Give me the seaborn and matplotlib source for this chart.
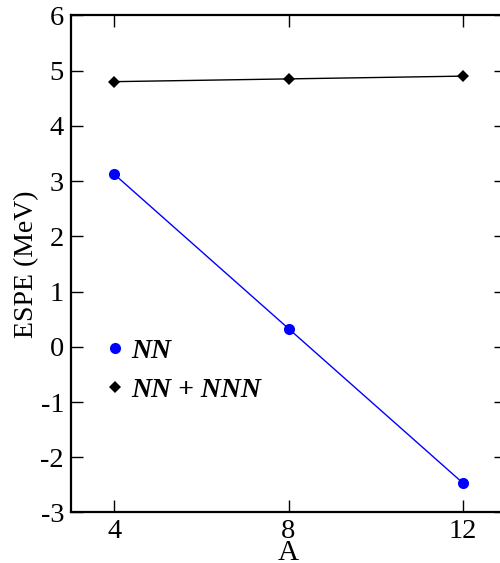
import numpy as np
import pandas as pd
import seaborn as sns
import matplotlib.pyplot as plt
from matplotlib.lines import Line2D

# values
mass_number = [4, 8, 12]
espe_nn = [3.12, 0.33, -2.46]
espe_nn_nnn = [4.80, 4.85, 4.90]

sns.set_theme(style="ticks")
plt.rcParams['font.family'] = 'serif'
plt.rcParams['font.serif'] = ['Liberation Serif', 'DejaVu Serif']
plt.rcParams['axes.unicode_minus'] = False
plt.rcParams['text.color'] = 'black'
plt.rcParams['axes.labelcolor'] = 'black'
plt.rcParams['xtick.color'] = 'black'
plt.rcParams['ytick.color'] = 'black'
plt.rcParams['axes.edgecolor'] = 'black'

df = pd.DataFrame({"A": mass_number * 2,
                   "ESPE": espe_nn + espe_nn_nnn,
                   "force": ["NN"] * 3 + ["NN + NNN"] * 3})

fig = plt.figure(figsize=(5.0, 5.63), dpi=100)
ax = fig.add_axes([0.142, 0.0897, 0.870, 0.883])

sns.lineplot(data=df[df["force"] == "NN"], x="A", y="ESPE", ax=ax,
             color="blue", lw=1, marker="o", markersize=8, markeredgewidth=0,
             legend=False)
sns.lineplot(data=df[df["force"] == "NN + NNN"], x="A", y="ESPE", ax=ax,
             color="black", lw=1, marker="D", markersize=6.5, markeredgewidth=0,
             legend=False)

ax.set_xlim(3, 13)
ax.set_ylim(-3, 6)
ax.set_xticks(mass_number)
ax.set_yticks(np.arange(-3, 7, 1))
ax.tick_params(direction="in", length=8.6, width=1, labelsize=20.5, pad=5,
               top=True, right=True)
for s in ax.spines.values():
    s.set_linewidth(1.6)

ax.set_xlabel("A", fontsize=21, labelpad=-3)
ax.set_ylabel("ESPE (MeV)", fontsize=20, labelpad=1)

handles = [Line2D([], [], color="blue", marker="o", linestyle="none", markersize=8,
                  markeredgewidth=0, label="NN"),
           Line2D([], [], color="black", marker="D", linestyle="none", markersize=6.5,
                  markeredgewidth=0, label="NN + NNN")]
ax.legend(handles=handles, frameon=False, loc="lower left",
          bbox_to_anchor=(0.018, 0.17), handlelength=0.8, handletextpad=0.2,
          labelspacing=0.5, prop={"size": 20, "weight": "bold", "style": "italic"})

fig.savefig("out.png", dpi=100)
